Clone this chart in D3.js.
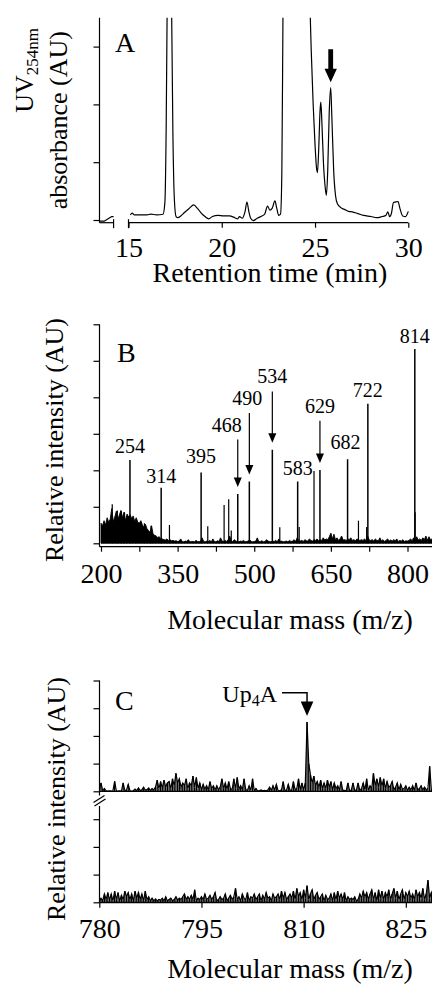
<!DOCTYPE html>
<meta charset="utf-8">
<style>
body { margin: 0; background: #fff; }
svg { display: block; }
text { font-family: "Liberation Serif", "Times New Roman", Times, serif; fill: #000; }
.axis line { stroke: #000; stroke-width: 1.2px; }
.frame { stroke: #000; stroke-width: 1.2px; fill: none; }
.trace { stroke: #000; stroke-width: 1.2px; fill: none; }
.spec { stroke: #000; stroke-width: 0.9px; fill: #000; }
.sticks { stroke: #000; stroke-width: 1.3px; fill: none; }
.tick text { font-size: 28px; }
.title { font-size: 28px; }
.ytitle { font-size: 26px; }
.panel { font-size: 28px; }
.peaklab { font-size: 20px; }
</style>
<svg width="432" height="985"></svg>
<script src="https://d3js.org/d3.v7.min.js"></script>
<script>

// ---- panel A : HPLC trace, retention time (min) vs UV254 absorbance (AU)
var hplcTime = [15.1, 15.2, 15.3, 15.6, 16.0, 16.2, 16.5, 16.85, 16.95, 17.02, 17.08, 17.2, 17.3, 17.38, 17.46,
  17.55, 17.65, 17.8, 18.0, 18.25, 18.5, 18.7, 18.9, 19.1, 19.3, 19.5, 19.8, 20.1, 20.4, 20.7, 20.85, 20.95,
  21.1, 21.25, 21.35, 21.45, 21.55, 21.7, 21.9, 22.1, 22.3, 22.45, 22.58, 22.7, 22.85, 22.95, 23.05, 23.15,
  23.22, 23.28, 23.4, 24.0, 24.6, 24.72, 24.8, 24.9, 25.0, 25.08, 25.13, 25.2, 25.27, 25.31, 25.36, 25.45,
  25.55, 25.61, 25.68, 25.76, 25.84, 25.9, 26.0, 26.1, 26.2, 26.4, 26.6, 26.8, 27.0, 27.3, 27.6, 28.0, 28.3,
  28.6, 28.8, 28.9, 29.0, 29.1, 29.2, 29.3, 29.45, 29.55, 29.7, 29.85, 30.0];
var hplcAbs = [0.09, 0.12, 0.09, 0.09, 0.09, 0.1, 0.09, 0.1, 0.3, 1.6, 4.0, 8.0, 4.0, 1.5, 0.35,
  0.06, 0.04, 0.07, 0.13, 0.2, 0.26, 0.2, 0.12, 0.06, 0.02, 0.06, 0.08, 0.07, 0.07, 0.04, 0.02, 0.06,
  0.03, 0.15, 0.31, 0.15, 0.03, -0.01, 0.03, 0.06, 0.1, 0.24, 0.17, 0.2, 0.33, 0.2, 0.08, 0.1,
  0.8, 3.5, 8, 10, 6, 3.8, 2.9, 2.0, 1.3, 0.9, 0.82, 1.25, 1.9, 2.04, 1.75, 1.0,
  0.55, 0.43, 0.85, 1.85, 2.29, 1.8, 0.85, 0.42, 0.28, 0.21, 0.18, 0.15, 0.14, 0.11, 0.08, 0.06, 0.04,
  0.06, 0.08, 0.14, 0.06, 0.12, 0.3, 0.31, 0.32, 0.2, 0.07, 0.06, 0.15];
// short piece of trace left of the axis break
var hplcPreTime = [13.45, 13.7, 13.95, 14.1, 14.2];
var hplcPreAbs = [-0.02, -0.02, 0.03, 0.06, 0.06];
var hplcTicks = [15, 20, 25, 30];
var hplcBreak = [14.2, 15];
var hplcArrowTime = 25.84;

// ---- panel B : mass spectrum
var msLabels = ["254", "314", "395", "468", "490", "534", "583", "629", "682", "722", "814"];
var msPeakMz = [256.7, 317.8, 396, 467.7, 490.4, 535.4, 585, 628.6, 682.7, 722.4, 814.3];
var msPeakInt = [2.28, 1.52, 1.94, 1.35, 1.69, 2.56, 1.69, 2.01, 2.3, 3.82, 5.32];
var msLabelInt = [2.47, 1.66, 2.19, 3.06, 3.79, 4.38, 1.87, 3.58, 2.58, 4.02, 5.48];
var msArrowed = [false, false, false, true, true, true, false, true, false, false, false];
var msMinorMz = [222, 232, 240, 246, 285, 298, 334, 409, 441, 450, 455, 550, 588, 617, 704, 720, 815];
var msMinorInt = [1.07, 0.9, 0.88, 0.85, 0.55, 0.48, 0.5, 0.47, 1.05, 1.21, 0.35, 0.44, 0.45, 1.98, 0.62, 0.45, 0.85];
var msNoiseStart = 200, msNoiseStep = 3;
var msNoise = [
  0.55, 0.48, 0.62, 0.5, 0.7, 0.58, 0.66, 0.95, 0.6, 0.72,
  0.88, 0.65, 0.78, 0.9, 0.7, 0.85, 0.62, 0.8, 0.72, 0.78,
  0.68, 0.75, 0.6, 0.7, 0.58, 0.55, 0.62, 0.5, 0.45, 0.52,
  0.4, 0.35, 0.3, 0.48, 0.25, 0.22, 0.2, 0.16, 0.18, 0.12,
  0.12, 0.1, 0.09, 0.12, 0.08, 0.1, 0.07, 0.08, 0.06, 0.07,
  0.05, 0.06, 0.12, 0.05, 0.04, 0.06, 0.05, 0.1, 0.04, 0.05,
  0.05, 0.04, 0.08, 0.05, 0.04, 0.06, 0.15, 0.05, 0.04, 0.06,
  0.05, 0.08, 0.04, 0.12, 0.05, 0.04, 0.07, 0.05, 0.15, 0.06,
  0.05, 0.08, 0.05, 0.1, 0.2, 0.06, 0.05, 0.1, 0.06, 0.05,
  0.04, 0.06, 0.05, 0.08, 0.04, 0.05, 0.06, 0.1, 0.05, 0.04,
  0.05, 0.06, 0.15, 0.04, 0.05, 0.07, 0.04, 0.05, 0.1, 0.06,
  0.05, 0.04, 0.06, 0.05, 0.08, 0.04, 0.12, 0.05, 0.06, 0.04,
  0.05, 0.06, 0.04, 0.08, 0.05, 0.06, 0.1, 0.05, 0.15, 0.07,
  0.06, 0.08, 0.05, 0.1, 0.07, 0.06, 0.12, 0.08, 0.06, 0.1,
  0.08, 0.12, 0.07, 0.1, 0.08, 0.15, 0.09, 0.12, 0.1, 0.18,
  0.28, 0.12, 0.25, 0.1, 0.15, 0.08, 0.12, 0.2, 0.09, 0.1,
  0.08, 0.12, 0.1, 0.15, 0.08, 0.1, 0.07, 0.12, 0.09, 0.08,
  0.1, 0.08, 0.12, 0.07, 0.2, 0.09, 0.08, 0.1, 0.06, 0.12,
  0.08, 0.07, 0.15, 0.06, 0.1, 0.05, 0.08, 0.12, 0.06, 0.09,
  0.06, 0.1, 0.07, 0.12, 0.05, 0.08, 0.06, 0.1, 0.05, 0.07,
  0.06, 0.08, 0.12, 0.07, 0.15, 0.06, 0.18, 0.09, 0.12, 0.08,
  0.15, 0.1, 0.2, 0.08, 0.18, 0.1, 0.12, 0.08, 0.1, 0.09];
var msTicks = [200, 275, 350, 425, 500, 575, 650, 725, 800];
var msTickLabels = [200, 350, 500, 650, 800];

// ---- panel C : zoomed spectra 780-829 m/z, sample (top) and control (bottom)
var czStart = 780, czStep = 0.25;
var czSample = [
  0.02, 0.3, 0.02, 0.1,  0.02, 0.01, 0.02, 0.01,  0.02, 0.36, 0.02, 0.01,  0.02, 0.01, 0.3, 0.02,
  0.05, 0.25, 0.02, 0.01,  0.02, 0.08, 0.02, 0.12,  0.03, 0.05, 0.15, 0.04,  0.06, 0.12, 0.03, 0.1,
  0.05, 0.15, 0.4, 0.1,  0.35, 0.12, 0.4, 0.15,  0.3, 0.35, 0.1, 0.45,  0.2, 0.65, 0.3, 0.45,
  0.15, 0.3, 0.2, 0.45,  0.1, 0.3, 0.2, 0.55,  0.15, 0.5, 0.1, 0.3,  0.05, 0.25, 0.08, 0.2,
  0.05, 0.35, 0.1, 0.2,  0.05, 0.2, 0.06, 0.15,  0.45, 0.1, 0.3, 0.08,  0.35, 0.1, 0.05, 0.45,
  0.1, 0.5, 0.08, 0.2,  0.05, 0.45, 0.06, 0.03,  0.2, 0.03, 0.45, 0.02,  0.1, 0.02, 0.03, 0.05,
  0.02, 0.03, 0.02, 0.05,  0.15, 0.03, 0.2, 0.05,  0.25, 0.02, 0.03, 0.05,  0.35, 0.02, 0.05, 0.25,
  0.03, 0.05, 0.35, 0.05,  0.1, 0.45, 0.05, 0.3,  0.05, 0.3, 2.5, 1.0,  0.6, 0.3, 0.55, 0.2,
  0.35, 0.15, 0.4, 0.1,  0.3, 0.1, 0.4, 0.15,  0.35, 0.05, 0.3, 0.1,  0.2, 0.05, 0.35, 0.03,
  0.03, 0.02, 0.3, 0.02,  0.05, 0.3, 0.03, 0.05,  0.3, 0.02, 0.1, 0.3,  0.05, 0.45, 0.03, 0.2,
  0.1, 0.65, 0.2, 0.45,  0.15, 0.5, 0.2, 0.45,  0.1, 0.35, 0.15, 0.2,  0.35, 0.05, 0.15, 0.3,
  0.05, 0.25, 0.08, 0.1,  0.2, 0.03, 0.15, 0.05,  0.2, 0.03, 0.3, 0.05,  0.1, 0.2, 0.05, 0.15,
  0.05, 0.1, 0.9, 0.05,  0.05];
var czControl = [
  0.02, 0.15, 0.05, 0.3,  0.1, 0.35, 0.08, 0.3,  0.05, 0.4, 0.1, 0.35,  0.05, 0.25, 0.1, 0.4,
  0.2, 0.35, 0.1, 0.3,  0.05, 0.4, 0.15, 0.35,  0.1, 0.3, 0.05, 0.4,  0.1, 0.2, 0.05, 0.15,
  0.05, 0.12, 0.05, 0.1,  0.08, 0.15, 0.05, 0.2,  0.05, 0.1, 0.15, 0.05,  0.1, 0.2, 0.08, 0.15,
  0.1, 0.2, 0.3, 0.1,  0.2, 0.1, 0.25, 0.1,  0.45, 0.05, 0.15, 0.1,  0.2, 0.1, 0.3, 0.1,
  0.15, 0.25, 0.1, 0.2,  0.35, 0.05, 0.1, 0.2,  0.1, 0.15, 0.3, 0.05,  0.15, 0.25, 0.1, 0.2,
  0.5, 0.1, 0.2, 0.05,  0.3, 0.15, 0.1, 0.35,  0.05, 0.2, 0.15, 0.3,  0.1, 0.2, 0.3, 0.05,
  0.25, 0.1, 0.35, 0.15,  0.2, 0.05, 0.3, 0.15,  0.2, 0.3, 0.1, 0.4,  0.15, 0.35, 0.1, 0.2,
  0.3, 0.15, 0.4, 0.1,  0.5, 0.2, 0.35, 0.1,  0.45, 0.15, 0.6, 0.1,  0.3, 0.45, 0.1, 0.25,
  0.35, 0.1, 0.2, 0.3,  0.05, 0.25, 0.1, 0.15,  0.3, 0.05, 0.35, 0.1,  0.4, 0.15, 0.3, 0.1,
  0.35, 0.05, 0.2, 0.1,  0.15, 0.1, 0.2, 0.05,  0.1, 0.3, 0.15, 0.4,  0.2, 0.35, 0.1, 0.3,
  0.45, 0.1, 0.35, 0.05,  0.45, 0.15, 0.4, 0.1,  0.35, 0.2, 0.45, 0.1,  0.3, 0.5, 0.15, 0.4,
  0.1, 0.3, 0.45, 0.1,  0.35, 0.2, 0.4, 0.15,  0.3, 0.1, 0.45, 0.2,  0.35, 0.15, 0.5, 0.1,
  0.3, 0.8, 0.15, 0.35,  0.1];
var czTicks = [780, 795, 810, 825];

var svg = d3.select("svg");
var axisX = 99.5, rightEdge = 432;

function cleanAxis(g) {
  g.attr("font-size", null).attr("font-family", null);
  g.select(".domain").remove();
}
function leftTicks(scale, vals) {
  return d3.axisLeft(scale).tickValues(vals).tickSize(6).tickSizeOuter(0).tickFormat("");
}
function vline(g, x, y1, y2) {
  g.append("line").attr("class", "frame").attr("x1", x).attr("x2", x).attr("y1", y1).attr("y2", y2);
}
function hline(g, x1, x2, y) {
  g.append("line").attr("class", "frame").attr("x1", x1).attr("x2", x2).attr("y1", y).attr("y2", y);
}
// profile spectrum drawn as a stick per sample plus its baseline
function sticks(pts, x, y) {
  return "M" + x(pts[0][0]) + "," + y(0) + "H" + x(pts[pts.length - 1][0]) +
    pts.map(d => "M" + x(d[0]) + "," + y(0) + "V" + y(d[1])).join("");
}

// ================= A =================
var xA = d3.scaleLinear().domain([15, 30]).range([128.5, 408.3]);
var yA = d3.scaleLinear().domain([0, 3.5]).range([220, 17.7]);
var baseA = 222.7;
var gA = svg.append("g");

gA.append("clipPath").attr("id", "clipA").append("rect")
  .attr("x", axisX).attr("y", yA(3.5)).attr("width", 320).attr("height", 220);

var lineA = d3.line().x(d => xA(d[0])).y(d => yA(d[1])).curve(d3.curveMonotoneX);
gA.append("path").attr("class", "trace").attr("clip-path", "url(#clipA)")
  .attr("d", lineA(d3.zip(hplcTime, hplcAbs)));
gA.append("path").attr("class", "trace").attr("clip-path", "url(#clipA)")
  .attr("d", d3.line().x(d => xA(d[0])).y(d => yA(d[1]))(d3.zip(hplcPreTime, hplcPreAbs)));

gA.append("g").attr("class", "axis").attr("transform", "translate(" + axisX + ",0)")
  .call(leftTicks(yA, [0, 1, 2, 3])).call(cleanAxis);
vline(gA, axisX, yA(3.5), baseA);

gA.append("g").attr("class", "axis").attr("transform", "translate(0," + baseA + ")")
  .call(d3.axisBottom(xA).tickValues(hplcTicks).tickSize(5).tickSizeOuter(0))
  .call(cleanAxis)
  .call(g => g.selectAll("text").attr("dy", null).attr("y", 34.5));
hline(gA, axisX, xA(hplcBreak[0]), baseA);
hline(gA, xA(hplcBreak[1]), xA(30), baseA);
hplcBreak.forEach(t => vline(gA, xA(t), baseA - 3.5, baseA + 5.5));

// block arrow over the Up4A peak
var ax = xA(hplcArrowTime), tipA = yA(2.29) - 5.5;
gA.append("path").attr("fill", "#000")
  .attr("d", "M" + (ax - 2.4) + "," + (tipA - 33) + "H" + (ax + 2.4) + "V" + (tipA - 13.5) +
    "H" + (ax + 6.2) + "L" + ax + "," + tipA + "L" + (ax - 6.2) + "," + (tipA - 13.5) +
    "H" + (ax - 2.4) + "Z");

gA.append("text").attr("class", "panel").attr("x", 115).attr("y", 52).text("A");
gA.append("text").attr("class", "title").attr("x", 270).attr("y", 282)
  .attr("text-anchor", "middle").text("Retention time (min)");
var uv = gA.append("text").attr("class", "ytitle").attr("text-anchor", "end")
  .attr("transform", "translate(33,28) rotate(-90)");
uv.append("tspan").text("UV");
uv.append("tspan").attr("dy", 5).style("font-size", "17px").text("254nm");
gA.append("text").attr("class", "ytitle").attr("text-anchor", "end")
  .attr("transform", "translate(66.5,31) rotate(-90)").text("absorbance (AU)");

// ================= B =================
var xB = d3.scaleLinear().domain([200, 800]).range([101, 407.5]);
var yB = d3.scaleLinear().domain([0, 6]).range([543.3, 324.3]);
var baseB = 546.7;
var gB = svg.append("g");
gB.append("clipPath").attr("id", "clipB").append("rect")
  .attr("x", axisX + 0.6).attr("y", 290).attr("width", rightEdge - axisX).attr("height", 255);
var plotB = gB.append("g").attr("clip-path", "url(#clipB)");

var noiseB = msNoise.map((v, i) => [msNoiseStart + i * msNoiseStep, v]);
plotB.append("path").attr("class", "spec")
  .attr("d", d3.area().x(d => xB(d[0])).y0(yB(0)).y1(d => yB(d[1]))(noiseB));
plotB.selectAll("line.minor").data(d3.zip(msMinorMz, msMinorInt)).join("line")
  .attr("class", "minor").attr("stroke", "#000").attr("stroke-width", 1.2)
  .attr("x1", d => xB(d[0])).attr("x2", d => xB(d[0]))
  .attr("y1", yB(0)).attr("y2", d => yB(d[1]));
var peaksB = msLabels.map((lab, i) => ({ lab: lab, mz: msPeakMz[i], h: msPeakInt[i], lh: msLabelInt[i], arrow: msArrowed[i] }));
plotB.selectAll("line.peak").data(peaksB).join("line")
  .attr("class", "peak").attr("stroke", "#000").attr("stroke-width", 1.5)
  .attr("x1", d => xB(d.mz)).attr("x2", d => xB(d.mz))
  .attr("y1", yB(0)).attr("y2", d => yB(d.h));

var labelNudge = { "468": -11, "490": -2, "682": -2 };
gB.selectAll("text.peaklab").data(peaksB).join("text")
  .attr("class", "peaklab").attr("text-anchor", "middle")
  .attr("x", d => xB(d.mz) + (labelNudge[d.lab] || 0)).attr("y", d => yB(d.lh))
  .text(d => d.lab);
peaksB.filter(d => d.arrow).forEach(function(d) {
  var x = xB(d.mz), tip = yB(d.h) - 7, top = yB(d.lh) + 8;
  gB.append("line").attr("stroke", "#000").attr("stroke-width", 1.2)
    .attr("x1", x).attr("x2", x).attr("y1", top).attr("y2", tip - 8);
  gB.append("path").attr("fill", "#000")
    .attr("d", "M" + (x - 4) + "," + (tip - 9.5) + "L" + (x + 4) + "," + (tip - 9.5) + "L" + x + "," + tip + "Z");
});

gB.append("g").attr("class", "axis").attr("transform", "translate(" + axisX + ",0)")
  .call(leftTicks(yB, d3.range(0, 7))).call(cleanAxis);
vline(gB, axisX, yB(6), baseB);
gB.append("g").attr("class", "axis").attr("transform", "translate(0," + baseB + ")")
  .call(d3.axisBottom(xB).tickValues(msTicks).tickSize(5).tickSizeOuter(0)
    .tickFormat(v => msTickLabels.indexOf(v) >= 0 ? v : ""))
  .call(cleanAxis)
  .call(g => g.selectAll("text").attr("dy", null).attr("y", 36.5));
hline(gB, axisX, rightEdge, baseB);

gB.append("text").attr("class", "panel").attr("x", 117).attr("y", 361.7).text("B");
gB.append("text").attr("class", "title").attr("x", 290).attr("y", 629)
  .attr("text-anchor", "middle").text("Molecular mass (m/z)");
gB.append("text").attr("class", "ytitle").attr("text-anchor", "middle")
  .attr("transform", "translate(63,440) rotate(-90)").text("Relative intensity (AU)");

// ================= C =================
var xC = d3.scaleLinear().domain([780, 825]).range([99.3, 405.8]);
var yUp = d3.scaleLinear().domain([0, 4]).range([791.3, 680.5]);
var yLo = d3.scaleLinear().domain([0, 3]).range([902.3, 819.2]);
var baseC = 902.7;
var gC = svg.append("g");
gC.append("clipPath").attr("id", "clipC").append("rect")
  .attr("x", axisX).attr("y", 660).attr("width", rightEdge - axisX).attr("height", 243);

var sample = czSample.map((v, i) => [czStart + i * czStep, v]);
var control = czControl.map((v, i) => [czStart + i * czStep, v]);
gC.append("path").attr("class", "sticks").attr("clip-path", "url(#clipC)")
  .attr("d", sticks(sample, xC, yUp));
gC.append("path").attr("class", "trace").attr("stroke-width", 0.8).attr("clip-path", "url(#clipC)")
  .attr("d", d3.line().x(d => xC(d[0])).y(d => yUp(d[1]))(sample));
gC.append("path").attr("class", "sticks").attr("clip-path", "url(#clipC)")
  .attr("d", sticks(control, xC, yLo));
gC.append("path").attr("class", "trace").attr("stroke-width", 0.6).attr("clip-path", "url(#clipC)")
  .attr("d", d3.line().x(d => xC(d[0])).y(d => yLo(d[1]))(control));

gC.append("g").attr("class", "axis").attr("transform", "translate(" + axisX + ",0)")
  .call(leftTicks(yUp, [0, 1, 2, 3, 4])).call(cleanAxis);
gC.append("g").attr("class", "axis").attr("transform", "translate(" + axisX + ",0)")
  .call(leftTicks(yLo, [0, 1, 2, 3])).call(cleanAxis);
vline(gC, axisX, yUp(4), 795.5);
vline(gC, axisX, 806, baseC);
gC.append("line").attr("class", "frame").attr("x1", 93.5).attr("y1", 802.5).attr("x2", 104.5).attr("y2", 795.5);
gC.append("line").attr("class", "frame").attr("x1", 94.5).attr("y1", 806).attr("x2", 105.5).attr("y2", 799);

gC.append("g").attr("class", "axis").attr("transform", "translate(0," + baseC + ")")
  .call(d3.axisBottom(xC).tickValues(czTicks).tickSize(5).tickSizeOuter(0))
  .call(cleanAxis)
  .call(g => g.selectAll("text").attr("dy", null).attr("y", 35.5));
hline(gC, axisX, rightEdge, baseC);

// Up4A marker
var pk = sample[d3.maxIndex(sample, d => d[1])];
var px = xC(pk[0]), ptip = yUp(pk[1]) - 6;
gC.append("path").attr("fill", "none").attr("stroke", "#000").attr("stroke-width", 1.5)
  .attr("d", "M282," + (ptip - 23.3) + "H" + px + "V" + (ptip - 12));
gC.append("path").attr("fill", "#000")
  .attr("d", "M" + (px - 6.3) + "," + (ptip - 14.5) + "L" + (px + 6.3) + "," + (ptip - 14.5) + "L" + px + "," + ptip + "Z");
var up = gC.append("text").attr("x", 277).attr("y", 701.7).attr("text-anchor", "end").style("font-size", "24px");
up.append("tspan").text("Up");
up.append("tspan").attr("dy", 4).style("font-size", "16px").text("4");
up.append("tspan").attr("dy", -4).text("A");

gC.append("text").attr("class", "panel").attr("x", 115).attr("y", 710).text("C");
gC.append("text").attr("class", "title").attr("x", 290).attr("y", 978)
  .attr("text-anchor", "middle").text("Molecular mass (m/z)");
gC.append("text").attr("class", "ytitle").attr("text-anchor", "middle")
  .attr("transform", "translate(65,799) rotate(-90)").text("Relative intensity (AU)");

</script>
